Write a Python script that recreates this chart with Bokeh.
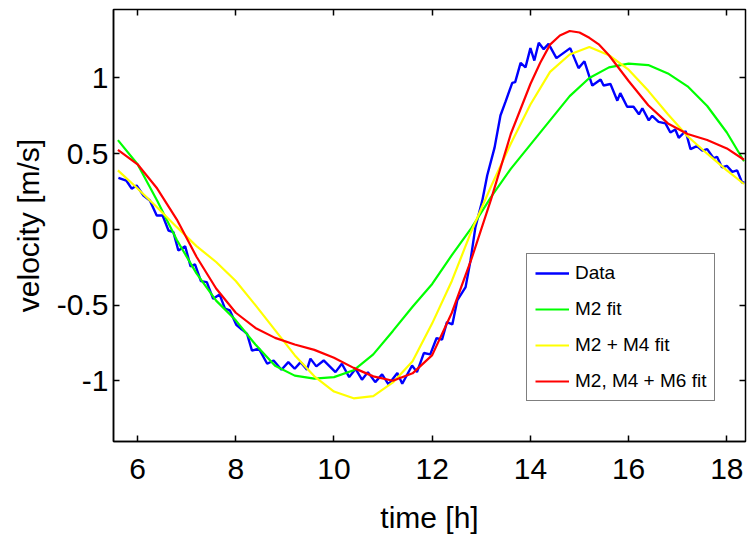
from bokeh.plotting import figure
from bokeh.models import Range1d, LinearAxis, FixedTicker, Legend, LegendItem
from bokeh.embed import file_html
from bokeh.resources import INLINE

FONT = "Liberation Sans"

# measured velocity (blue)
data_t = [5.61, 5.77, 5.88, 5.98, 6.12, 6.25, 6.39, 6.51, 6.63, 6.73, 6.83, 6.97,
          7.08, 7.17, 7.29, 7.41, 7.54, 7.67, 7.78, 7.88, 8.01, 8.13, 8.23, 8.33,
          8.47, 8.64, 8.77, 8.93, 9.07, 9.20, 9.32, 9.45, 9.52, 9.64, 9.79, 10.03,
          10.16, 10.31, 10.44, 10.57, 10.69, 10.84, 10.98, 11.11, 11.29, 11.39, 11.59,
          11.69, 11.83, 11.96, 12.09, 12.20, 12.30, 12.41, 12.51, 12.68, 12.78, 12.88,
          13.02, 13.12, 13.27, 13.39, 13.49, 13.63, 13.69, 13.80, 13.90, 14.00, 14.08,
          14.17, 14.27, 14.37, 14.53, 14.81, 14.98, 15.10, 15.26, 15.43, 15.49, 15.63,
          15.77, 15.83, 15.97, 16.10, 16.21, 16.28, 16.41, 16.48, 16.61, 16.75, 16.85,
          16.95, 17.02, 17.16, 17.26, 17.39, 17.50, 17.60, 17.73, 17.80, 17.90, 18.00,
          18.11, 18.21, 18.31, 18.36]
data_v = [0.341, 0.323, 0.269, 0.290, 0.224, 0.191, 0.092, 0.092, -0.007, -0.018, -0.139, -0.112,
          -0.244, -0.231, -0.341, -0.348, -0.458, -0.429, -0.523, -0.535, -0.629, -0.662, -0.690, -0.800,
          -0.787, -0.887, -0.865, -0.926, -0.876, -0.920, -0.876, -0.926, -0.853, -0.904, -0.865, -0.942,
          -0.887, -0.975, -0.920, -0.992, -0.942, -1.008, -0.957, -1.023, -0.948, -1.019, -0.898,
          -0.942, -0.816, -0.825, -0.717, -0.728, -0.612, -0.627, -0.469, -0.381, -0.205, 0.015,
          0.190, 0.356, 0.540, 0.752, 0.840, 0.968, 0.973, 1.100, 1.070, 1.197, 1.115,
          1.232, 1.190, 1.225, 1.131, 1.197, 1.065, 1.110, 0.950, 0.990, 0.950, 0.960,
          0.850, 0.900, 0.810, 0.810, 0.760, 0.800, 0.720, 0.750, 0.710, 0.700, 0.640,
          0.660, 0.605, 0.650, 0.530, 0.550, 0.520, 0.530, 0.470, 0.480, 0.410, 0.420,
          0.380, 0.390, 0.310, 0.310]

# fits
fit_t = [5.6, 6.0, 6.4, 6.8, 7.2, 7.6, 8.0, 8.4, 8.8, 9.2, 9.6, 10.0, 10.4, 10.8, 11.2, 11.6,
         12.0, 12.4, 12.8, 13.2, 13.6, 14.0, 14.4, 14.8, 15.2, 15.6, 16.0, 16.4, 16.8, 17.2,
         17.6, 18.0, 18.35]
m2_fit = [0.59, 0.43, 0.19, -0.07, -0.29, -0.47, -0.60, -0.76, -0.90, -0.965, -0.985, -0.975,
          -0.93, -0.825, -0.67, -0.51, -0.36, -0.17, 0.01, 0.215, 0.40, 0.56, 0.72, 0.88, 1.00,
          1.07, 1.095, 1.085, 1.03, 0.945, 0.815, 0.64, 0.45]
m2m4_fit = [0.39, 0.27, 0.145, 0.015, -0.11, -0.215, -0.34, -0.50, -0.665, -0.83, -0.97, -1.07,
            -1.115, -1.10, -1.01, -0.87, -0.62, -0.34, -0.01, 0.285, 0.566, 0.825, 1.04, 1.155,
            1.205, 1.15, 1.055, 0.915, 0.76, 0.615, 0.50, 0.39, 0.30]
m6_t = [5.6, 6.0, 6.4, 6.8, 7.2, 7.6, 8.0, 8.4, 8.8, 9.2, 9.6, 10.0, 10.4, 10.8, 11.2, 11.6,
        12.0, 12.4, 12.8, 13.2, 13.6, 14.0, 14.2, 14.4, 14.6, 14.8, 15.0, 15.2, 15.4, 15.6,
        16.0, 16.4, 16.8, 17.2, 17.6, 18.0, 18.35]
m2m4m6_fit = [0.525, 0.43, 0.27, 0.065, -0.18, -0.39, -0.55, -0.65, -0.716, -0.76, -0.795, -0.847,
              -0.914, -0.97, -0.999, -0.95, -0.83, -0.55, -0.195, 0.20, 0.63, 0.96, 1.10, 1.22,
              1.28, 1.31, 1.30, 1.265, 1.22, 1.15, 0.98, 0.82, 0.70, 0.63, 0.59, 0.535, 0.46]

x_ticks = [6, 8, 10, 12, 14, 16, 18]
x_tick_labels = ["6", "8", "10", "12", "14", "16", "18"]
y_ticks = [-1, -0.5, 0, 0.5, 1]
y_tick_labels = ["-1", "-0.5", "0", "0.5", "1"]

p = figure(width=747, height=536, output_backend="svg", toolbar_location=None,
           x_range=Range1d(5.51, 18.38), y_range=Range1d(-1.40, 1.452),
           min_border_left=113, min_border_right=2, min_border_top=9, min_border_bottom=95,
           x_axis_label="time [h]", y_axis_label="velocity [m/s]")
p.grid.visible = False
p.outline_line_color = "black"
p.outline_line_width = 1.5
p.background_fill_color = "white"

p.xaxis.ticker = FixedTicker(ticks=x_ticks)
p.xaxis.major_label_overrides = dict(zip(x_ticks, x_tick_labels))
p.yaxis.ticker = FixedTicker(ticks=y_ticks)
p.yaxis.major_label_overrides = dict(zip(y_ticks, y_tick_labels))

for ax in (p.xaxis[0], p.yaxis[0]):
    ax.major_tick_in = 6
    ax.major_tick_out = 0
    ax.minor_tick_line_color = None
    ax.axis_line_color = "black"
    ax.axis_line_width = 1.5
    ax.major_tick_line_width = 1.5
    ax.major_label_text_font = FONT
    ax.major_label_text_font_size = "30px"
    ax.major_label_text_color = "black"
    ax.axis_label_text_font = FONT
    ax.axis_label_text_font_size = "30px"
    ax.axis_label_text_font_style = "normal"
    ax.axis_label_text_color = "black"
p.xaxis.major_label_standoff = 17
p.xaxis.axis_label_standoff = 19
p.yaxis.major_label_standoff = 5
p.yaxis.axis_label_standoff = 9

top = LinearAxis(ticker=FixedTicker(ticks=x_ticks), major_label_text_font_size="0px",
                 major_label_text_color=None,
                 major_label_standoff=0, major_tick_in=6, major_tick_out=0,
                 major_tick_line_width=1.5, minor_tick_line_color=None, axis_line_color=None)
right = LinearAxis(ticker=FixedTicker(ticks=y_ticks), major_label_text_font_size="0px",
                   major_label_text_color=None,
                   major_label_standoff=0, major_tick_in=6, major_tick_out=0,
                   major_tick_line_width=1.5, minor_tick_line_color=None, axis_line_color=None)
p.add_layout(top, "above")
p.add_layout(right, "right")

r1 = p.line(data_t, data_v, line_color="#0000FF", line_width=2.4)
r2 = p.line(fit_t, m2_fit, line_color="#00FF00", line_width=2.2)
r3 = p.line(fit_t, m2m4_fit, line_color="#FFFF00", line_width=2.2)
r4 = p.line(m6_t, m2m4m6_fit, line_color="#FF0000", line_width=2.2)

legend = Legend(items=[LegendItem(label="Data", renderers=[r1]),
                       LegendItem(label="M2 fit", renderers=[r2]),
                       LegendItem(label="M2 + M4 fit", renderers=[r3]),
                       LegendItem(label="M2, M4 + M6 fit", renderers=[r4])],
                location=(413, 40), label_text_font=FONT, label_text_font_size="19px",
                label_text_color="black",
                glyph_width=34, glyph_height=22, label_height=22, label_standoff=6,
                spacing=14, padding=8, margin=0,
                border_line_color="black", border_line_width=1.5,
                background_fill_color="white", background_fill_alpha=1.0)
p.add_layout(legend)

open("out.html", "w").write(file_html(p, INLINE))
